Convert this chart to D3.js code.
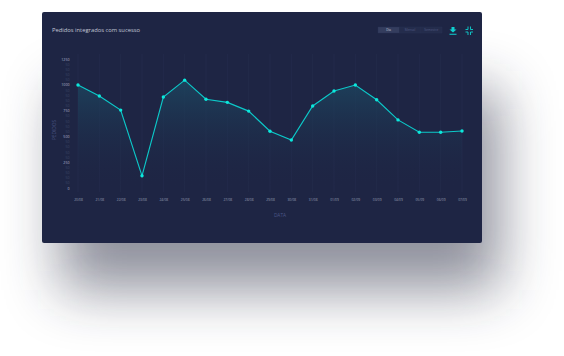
<!DOCTYPE html>
<html><head><meta charset="utf-8">
<script src="https://cdn.jsdelivr.net/npm/d3@7/dist/d3.min.js"></script>
<style>html,body{margin:0;padding:0;background:#fff;overflow:hidden}svg{display:block}text{font-family:"Open Sans",sans-serif}</style>
</head><body><svg id="c" width="564" height="356"></svg>
<script>
const dates=["20/08","21/08","22/08","23/08","24/08","25/08","26/08","27/08","28/08","29/08","30/08","31/08","01/09","02/09","03/09","04/09","05/09","06/09","07/09"];
const values=[998,892,755,118,882,1045,860,830,745,550,465,795,940,998,855,660,540,540,552];
const yTicks=[0,50,100,150,200,250,300,350,400,450,500,550,600,650,700,750,800,850,900,950,1000,1050,1100,1150,1200,1250];
const modes=["Dia","Mensal","Semestre"];
const svg=d3.select("#c");
const defs=svg.append("defs");
const blur=defs.append("filter").attr("id","sh").attr("filterUnits","userSpaceOnUse").attr("x",-100).attr("y",-60).attr("width",764).attr("height",480);
blur.append("feGaussianBlur").attr("stdDeviation",28);
const g=defs.append("linearGradient").attr("id","ar").attr("x1",0).attr("x2",0).attr("y1",0).attr("y2",1);
g.append("stop").attr("offset",0).attr("stop-color","#1c4a63").attr("stop-opacity",.75);
g.append("stop").attr("offset",1).attr("stop-color","#1e2544").attr("stop-opacity",0);
svg.append("rect").attr("x",60).attr("y",90).attr("width",440).attr("height",200).attr("fill","#2a2d44").attr("opacity",.52).attr("filter","url(#sh)");
svg.append("rect").attr("x",42).attr("y",12).attr("width",440).attr("height",231).attr("rx",2).attr("fill","#1e2544");
const x=d3.scalePoint().domain(dates).range([78,462]);
const y=d3.scaleLinear().domain([0,1250]).range([188,59]);
const grid=svg.append("g");
grid.selectAll("line").data(dates).join("line").attr("x1",d=>x(d)).attr("x2",d=>x(d)).attr("y1",54).attr("y2",192).attr("stroke","#283050").attr("stroke-width",.5);
const area=d3.area().x((d,i)=>x(dates[i])).y0(y(0)).y1(d=>y(d));
svg.append("path").datum(values).attr("d",area).attr("fill","url(#ar)");
const line=d3.line().x((d,i)=>x(dates[i])).y(d=>y(d));
svg.append("path").datum(values).attr("d",line).attr("fill","none").attr("stroke","#0cc9c9").attr("stroke-width",1.15);
svg.selectAll("circle").data(values).join("circle").attr("cx",(d,i)=>x(dates[i])).attr("cy",d=>y(d)).attr("r",1.7).attr("fill","#0ce8dc");
const ya=svg.append("g").attr("transform","translate(69.5,0)").call(d3.axisLeft(y).tickValues(yTicks).tickSize(0).tickPadding(0).tickFormat(d=>d%250==0?d:"50"));
ya.select(".domain").remove();
ya.selectAll("text").attr("font-size",3.6).attr("fill",d=>d%250==0?"#b4b9cc":"#3d4566");
const xa=svg.append("g").attr("transform","translate(0,198.5)").call(d3.axisBottom(x).tickSize(0).tickPadding(0));
xa.select(".domain").remove();
xa.selectAll("text").attr("font-size",3.3).attr("fill","#9aa0b8");
svg.append("text").attr("x",52).attr("y",32).attr("font-size",5.8).attr("fill","#c3c7d6").text("Pedidos integrados com sucesso");
svg.append("text").attr("transform","translate(56,130) rotate(-90)").attr("text-anchor","middle").attr("font-size",4.8).attr("fill","#4b5586").text("PEDIDOS");
svg.append("text").attr("x",280).attr("y",216.5).attr("text-anchor","middle").attr("font-size",4.8).attr("fill","#4b5586").text("DATA");
const bx=d3.scaleBand().domain(modes).range([378,442]);
svg.selectAll(".m").data(modes).join("rect").attr("class","m").attr("x",d=>bx(d)).attr("y",27).attr("width",bx.bandwidth()).attr("height",6).attr("fill",(d,i)=>i==0?"#343d5e":"#242c4c").attr("stroke","#2a3354").attr("stroke-width",.4);
svg.selectAll(".mt").data(modes).join("text").attr("class","mt").attr("x",d=>bx(d)+bx.bandwidth()/2).attr("y",31.2).attr("text-anchor","middle").attr("font-size",3.2).attr("fill",(d,i)=>i==0?"#c3c7d6":"#4f5880").text(d=>d);
const ic="#0fd0cf";
svg.append("path").attr("d","M451.5 27h3v2.5h2l-3.5 3-3.5-3h2zM449.5 33.7h7v1h-7z").attr("fill",ic);
svg.append("path").attr("d","M468 26.5v3h-2.5M470.5 26.5v3h2.5M468 35v-3h-2.5M470.5 35v-3h2.5").attr("fill","none").attr("stroke",ic).attr("stroke-width",.9);
</script></body></html>
